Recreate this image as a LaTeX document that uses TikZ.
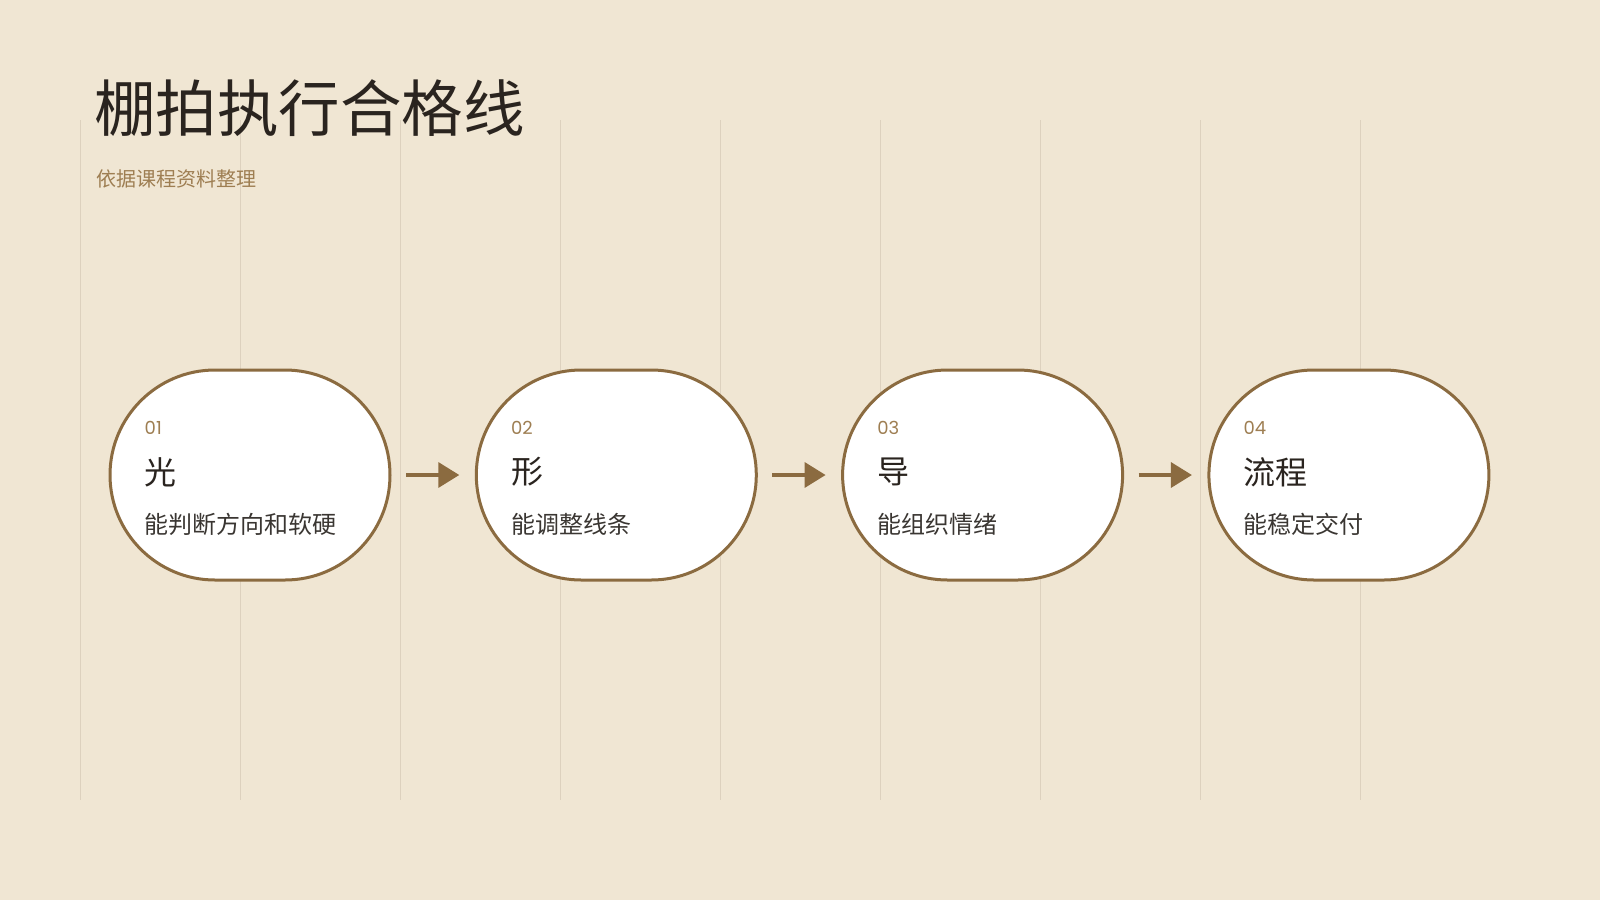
\documentclass[tikz,border=0pt]{standalone}
\usepackage{fontspec}
\setmainfont{Noto Sans CJK SC}
\newfontfamily\numfont{Poppins}
\usepackage{tikz}
\usetikzlibrary{shapes.misc,arrows.meta,positioning}
\definecolor{fundo}{HTML}{F0E6D3}
\definecolor{marrom}{HTML}{8B6B40}
\definecolor{cafe}{HTML}{9E7E52}
\definecolor{tinta}{HTML}{2A241F}
\definecolor{grafite}{HTML}{3A3632}
\definecolor{linha}{HTML}{DDD1BE}

\begin{document}
\begin{tikzpicture}[
	x=1pt, y=-1pt,
	>={Triangle[length=21pt,width=25pt]},
	etapa/.style={rounded rectangle, draw=marrom, line width=3pt, fill=white, minimum width=280pt, minimum height=210pt, inner sep=0pt},
	num/.style={anchor=west, inner sep=0pt, text=cafe, font=\numfont\fontsize{18}{20}\selectfont},
	tit/.style={anchor=west, inner sep=0pt, text=tinta, font=\fontsize{32}{36}\selectfont},
	desc/.style={anchor=west, inner sep=0pt, text=grafite, font=\fontsize{24}{28}\selectfont},
	seta/.style={->, line width=3.5pt, marrom},
	grade/.style={draw=linha, line width=1pt},
]
\fill[fundo] (0,0) rectangle (1600,900);
\useasboundingbox (0,0) rectangle (1600,900);

% linhas verticais de fundo
\foreach \x in {80,240,...,1360}
	\draw[grade] (\x,120) -- (\x,800);

\node[anchor=west, inner sep=0pt, text=tinta, font=\fontsize{61.5}{70}\selectfont] (titulo) at (94,108) {棚拍执行合格线};
\node[anchor=west, inner sep=0pt, text=cafe, font=\fontsize{20}{23}\selectfont] (subtitulo) at (96,179) {依据课程资料整理};

\node[etapa] (s1) at (250,475) {};
\node[etapa] (s2) [right=83.3pt of s1] {};
\node[etapa] (s3) [right=83.3pt of s2] {};
\node[etapa] (s4) [right=83.3pt of s3] {};

\node[num]  (n1) at ([xshift=36pt,yshift=47pt]s1.west) {01};
\node[tit]  (t1) at ([xshift=36pt,yshift=3pt]s1.west) {光};
\node[desc] (d1) at ([xshift=36pt,yshift=-49pt]s1.west) {能判断方向和软硬};

\node[num]  (n2) at ([xshift=36pt,yshift=47pt]s2.west) {02};
\node[tit]  (t2) at ([xshift=36pt,yshift=3pt]s2.west) {形};
\node[desc] (d2) at ([xshift=36pt,yshift=-49pt]s2.west) {能调整线条};

\node[num]  (n3) at ([xshift=36pt,yshift=47pt]s3.west) {03};
\node[tit]  (t3) at ([xshift=36pt,yshift=3pt]s3.west) {导};
\node[desc] (d3) at ([xshift=36pt,yshift=-49pt]s3.west) {能组织情绪};

\node[num]  (n4) at ([xshift=36pt,yshift=47pt]s4.west) {04};
\node[tit]  (t4) at ([xshift=36pt,yshift=3pt]s4.west) {流程};
\node[desc] (d4) at ([xshift=36pt,yshift=-49pt]s4.west) {能稳定交付};

\draw[seta] ([xshift=14.5pt]s1.east) -- ([xshift=-15.5pt]s2.west);
\draw[seta] ([xshift=14.5pt]s2.east) -- ([xshift=-15.5pt]s3.west);
\draw[seta] ([xshift=14.5pt]s3.east) -- ([xshift=-15.5pt]s4.west);
\end{tikzpicture}
\end{document}
